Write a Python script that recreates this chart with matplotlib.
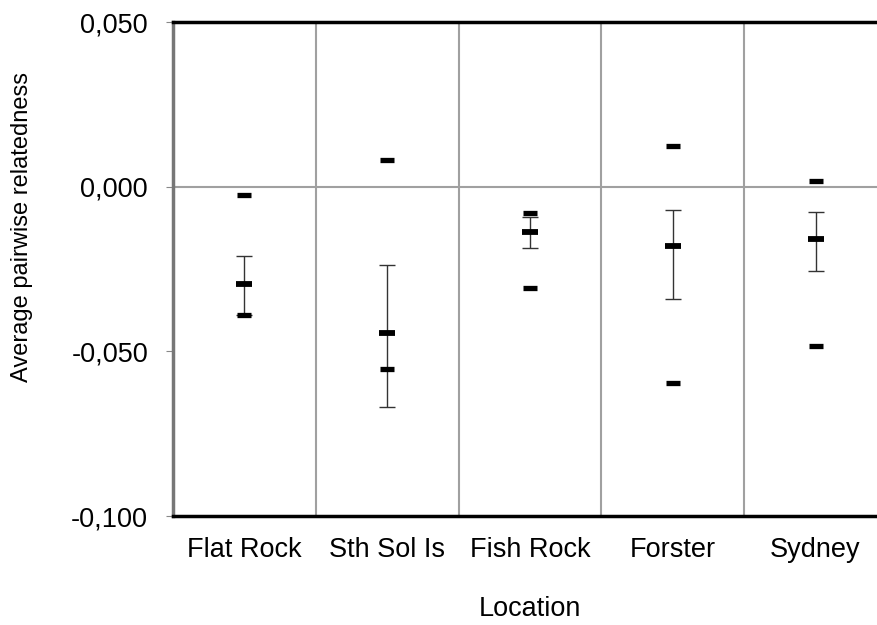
import matplotlib.pyplot as plt
from matplotlib.ticker import FixedLocator, FuncFormatter

plt.rcParams['font.family'] = ['Liberation Sans', 'DejaVu Sans']

locations = ["Flat Rock", "Sth Sol Is", "Fish Rock", "Forster", "Sydney"]
mean_r = [-0.0296, -0.0444, -0.0139, -0.0181, -0.0160]
ci_high = [-0.0210, -0.0237, -0.0091, -0.0070, -0.0078]
ci_low = [-0.0389, -0.0668, -0.0187, -0.0340, -0.0257]
upper_r = [-0.0025, 0.0082, -0.0081, 0.0122, 0.0018]
lower_r = [-0.0389, -0.0554, -0.0309, -0.0597, -0.0485]

x = list(range(len(locations)))
yerr = [[m - lo for m, lo in zip(mean_r, ci_low)],
        [hi - m for m, hi in zip(mean_r, ci_high)]]

fig = plt.figure(figsize=(8.77, 6.25), dpi=100)
ax = fig.add_axes([0.1973, 0.1744, 0.814, 0.7904])

# grid: vertical lines between categories, one horizontal at zero
ax.xaxis.set_minor_locator(FixedLocator([0.5, 1.5, 2.5, 3.5]))
ax.grid(True, which="minor", axis="x", color="#a0a0a0", lw=1.5)
ax.axhline(0, color="#a0a0a0", lw=1.5, zorder=1)

ax.errorbar(x, mean_r, yerr=yerr, fmt="none", ecolor="#333333",
            elinewidth=1, capsize=5.8, capthick=1, zorder=2)
ax.plot(x, upper_r, ls="none", marker="_", ms=10, mew=3.8, color="black", zorder=3)
ax.plot(x, lower_r, ls="none", marker="_", ms=10, mew=3.8, color="black", zorder=3)
ax.plot(x, mean_r, ls="none", marker="_", ms=11.5, mew=4.2, color="black", zorder=4)

ax.set_xlim(-0.5, 4.5)
ax.set_ylim(-0.1, 0.05)
ax.set_yticks([-0.1, -0.05, 0.0, 0.05])
ax.yaxis.set_major_formatter(FuncFormatter(lambda v, p: f"{v:.3f}".replace(".", ",")))
ax.set_xticks(x)
ax.set_xticklabels(locations)

ax.tick_params(axis="x", which="both", length=0, labelsize=19.5, pad=15)
ax.tick_params(axis="y", length=5, color="#888888", labelsize=19.5, pad=13)

for side in ["top", "bottom"]:
    ax.spines[side].set_color("black")
    ax.spines[side].set_linewidth(2.5)
ax.spines["left"].set_color("#777777")
ax.spines["left"].set_linewidth(2.5)
ax.spines["right"].set_visible(False)

ax.set_xlabel("Location", fontsize=19.5, labelpad=24)
ax.set_ylabel("Average pairwise relatedness", fontsize=17)
ax.yaxis.set_label_coords(-0.196, 0.585)

fig.savefig("out.png", dpi=100)
